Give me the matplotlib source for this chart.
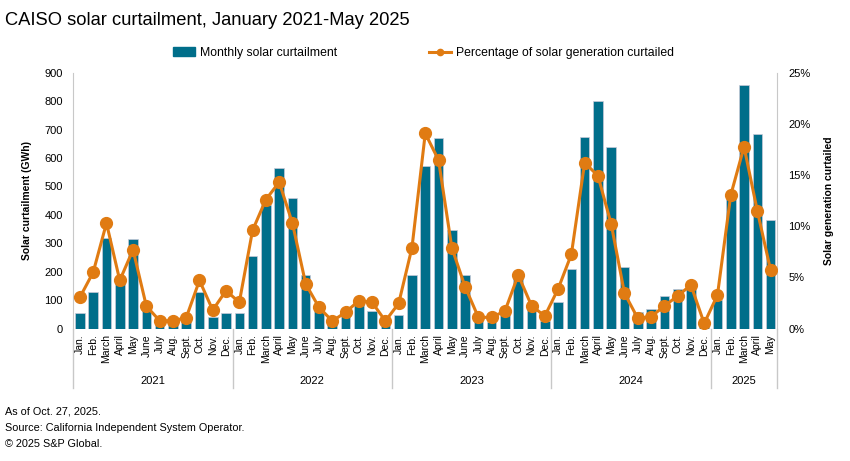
import matplotlib
matplotlib.use("Agg")
import matplotlib.pyplot as plt
import matplotlib.transforms as mtransforms
from matplotlib.lines import Line2D
from matplotlib.patches import Patch

plt.rcParams['font.family'] = ['Liberation Sans', 'DejaVu Sans']

years = ["2021", "2022", "2023", "2024", "2025"]
months = ["Jan.", "Feb.", "March", "April", "May", "June", "July", "Aug.",
          "Sept.", "Oct.", "Nov.", "Dec."]
month_counts = [12, 12, 12, 12, 5]

# monthly solar curtailment, GWh
gwh_2021 = [55, 130, 320, 160, 315, 65, 24, 20, 25, 130, 40, 55]
gwh_2022 = [53, 255, 435, 565, 460, 190, 60, 15, 45, 85, 62, 12]
gwh_2023 = [46, 190, 570, 670, 345, 190, 25, 22, 47, 180, 70, 25]
gwh_2024 = [92, 210, 675, 800, 637, 217, 59, 68, 114, 139, 140, 5]
gwh_2025 = [100, 470, 857, 685, 381]

# share of solar generation curtailed, %
pct_2021 = [3.05, 5.5, 10.3, 4.7, 7.7, 2.2, 0.76, 0.76, 1.05, 4.7, 1.8, 3.7]
pct_2022 = [2.56, 9.6, 12.6, 14.3, 10.3, 4.35, 2.07, 0.73, 1.58, 2.72, 2.56, 0.73]
pct_2023 = [2.46, 7.9, 19.07, 16.46, 7.9, 4.08, 1.09, 1.09, 1.71, 5.23, 2.23, 1.22]
pct_2024 = [3.86, 7.25, 16.2, 14.93, 10.2, 3.44, 1.0, 1.15, 2.2, 3.18, 4.25, 0.5]
pct_2025 = [3.27, 13.04, 17.76, 11.5, 5.7]

gwh = gwh_2021 + gwh_2022 + gwh_2023 + gwh_2024 + gwh_2025
pct = pct_2021 + pct_2022 + pct_2023 + pct_2024 + pct_2025
labels = []
for n in month_counts:
    labels += months[:n]
x = list(range(len(gwh)))

bar_col = "#006E8A"
line_col = "#E07B12"
grid_col = "#C8C8C8"

fig = plt.figure(figsize=(8.5, 4.61), dpi=100)
ax = fig.add_axes([0.0862, 0.2874, 0.8282, 0.5549])
ax2 = ax.twinx()

ax.bar(x, gwh, width=0.72, color=bar_col, edgecolor="#C9CAD8", linewidth=0.5, zorder=2)
ax2.plot(x, pct, "-o", color=line_col, lw=2.2, ms=8.5, zorder=3)

ax.set_xlim(-0.5, len(gwh) - 0.5)
ax.set_ylim(0, 900)
ax.set_yticks(range(0, 901, 100))
ax2.set_ylim(0, 25)
ax2.set_yticks(range(0, 26, 5))
ax2.set_yticklabels([f"{v}%" for v in range(0, 26, 5)])

ax.set_xticks(x)
ax.set_xticklabels(labels, rotation=90, fontsize=7.5, va="top")
ax.tick_params(axis="x", length=0, pad=4)
ax.tick_params(axis="y", length=0, pad=7.5, labelsize=8)
ax2.tick_params(axis="y", length=0, pad=8, labelsize=8)

for a in (ax, ax2):
    for s in a.spines.values():
        s.set_visible(False)
ax.spines["left"].set_visible(True)
ax.spines["left"].set_color(grid_col)
ax2.spines["right"].set_visible(True)
ax2.spines["right"].set_color(grid_col)
ax.set_zorder(ax2.get_zorder() - 1)
ax2.patch.set_visible(False)

ax.set_ylabel("Solar curtailment (GWh)", fontsize=7.5, fontweight="bold", labelpad=9)
ax2.set_ylabel("Solar generation curtailed", fontsize=7.5, fontweight="bold", labelpad=10)

# year groups under the month labels
trans = mtransforms.blended_transform_factory(ax.transData, ax.transAxes)
start = 0
for yr, n in zip(years, month_counts):
    ax.plot([start - 0.5, start - 0.5], [0, -0.233], color=grid_col, lw=1,
            transform=trans, clip_on=False)
    ax.text(start + (n - 1) / 2, -0.205, yr, transform=trans, ha="center",
            va="center", fontsize=8)
    start += n
ax.plot([start - 0.5, start - 0.5], [0, -0.233], color=grid_col, lw=1,
        transform=trans, clip_on=False)

fig.text(0.006, 0.955, "CAISO solar curtailment, January 2021-May 2025",
         fontsize=13.2, va="center", ha="left")

handles = [Patch(color=bar_col),
           Line2D([0], [0], color=line_col, lw=2.2, marker="o", ms=4.5)]
fig.legend(handles, ["Monthly solar curtailment", "Percentage of solar generation curtailed"],
           loc="center", bbox_to_anchor=(0.498, 0.885), ncol=2, frameon=False,
           prop={"size": 8.8}, columnspacing=7.5, handlelength=1.8,
           handletextpad=0.4)

fig.text(0.006, 0.0716, "As of Oct. 27, 2025.\nSource: California Independent System Operator.\n"
         "\u00a9 2025 S&P Global.", fontsize=7.8, va="center", ha="left", linespacing=1.75)

fig.savefig("out.png", dpi=100)
